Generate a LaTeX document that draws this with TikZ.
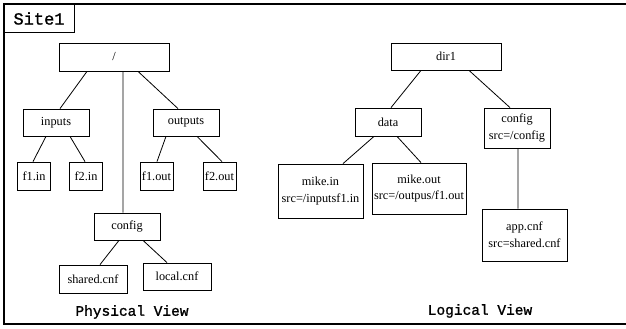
\documentclass[tikz,border=0pt]{standalone}
\usepackage{fontspec}
\setmainfont{Liberation Serif}
\newfontfamily\monofont[FakeBold=1.2]{Liberation Mono}
\usetikzlibrary{positioning}
\tikzset{
    box/.style={draw=black, line width=0.8pt, fill=white, inner sep=1pt, align=center,
        font=\fontsize{12.3}{16.5}\selectfont},
    link/.style={draw=black, line width=0.8pt},
    title/.style={font=\monofont\fontsize{14.5}{16}\selectfont}
}
\begin{document}
\begin{tikzpicture}[x=1pt, y=-1pt]
                \useasboundingbox (0,0) rectangle (626,329);
                \draw[line width=1.2pt] (626,4) -| (4,324) -- (626,324);
                \node[draw=black, line width=1pt, minimum width=70pt, minimum height=29pt, font=\monofont\fontsize{17}{18}\selectfont] (site) at (39,18.5) {Site1};

                % physical view
                \node[box, minimum width=110pt, minimum height=28pt] (root) at (114,57) {/};
                \foreach \n/\t/\x in {inputs/inputs/56, outputs/outputs/186}
                    \node[box, minimum width=66pt, minimum height=27pt] (\n) at (\x,122.5) {\t};
                \foreach \n/\t/\x in {f1in/f1.in/34, f2in/f2.in/86, f1out/f1.out/156.5, f2out/f2.out/219.5}
                    \node[box, minimum width=33pt, minimum height=28pt] (\n) at (\x,176) {\t};
                \node[box, minimum width=66pt, minimum height=27pt] (config) at (127,226.5) {config};
                \node[box, minimum width=68pt, minimum height=28pt] (shared) at (93,279) {shared.cnf};
                \node[box, minimum width=68pt, minimum height=27pt] (local) at (177,276.5) {local.cnf};
                \node[title] (phys) at (132,312) {Physical View};

                \draw[link] ([xshift=-27pt]root.south) -- ([xshift=4pt]inputs.north)
                      ([xshift=24pt]root.south) -- ([xshift=-8pt]outputs.north)
                      ([xshift=9pt]root.south) -- ([xshift=-4pt]config.north);
                \draw[link] ([xshift=-10pt]inputs.south) -- ([xshift=-1pt]f1in.north)
                      ([xshift=14pt]inputs.south) -- ([xshift=-1pt]f2in.north)
                      ([xshift=-20pt]outputs.south) -- ([xshift=0.5pt]f1out.north)
                      ([xshift=11pt]outputs.south) -- ([xshift=2.5pt]f2out.north);
                \draw[link] ([xshift=-8pt]config.south) -- ([xshift=7pt]shared.north)
                      ([xshift=16pt]config.south) -- ([xshift=-10pt]local.north);

                % logical view
                \node[box, minimum width=110pt, minimum height=27pt] (dir) at (446,56.5) {dir1};
                \node[box, minimum width=66pt, minimum height=28pt] (data) at (388,122) {data};
                \node[box, minimum width=66pt, minimum height=40pt] (lconfig) at (517,128) {config\\src=/config};
                \node[box, minimum width=85pt, minimum height=54pt] (mikein) at (320.5,191) {mike.in\\src=/inputsf1.in};
                \node[box, minimum width=94pt, minimum height=51pt] (mikeout) at (419,188.5) {mike.out\\src=/outpus/f1.out};
                \node[box, minimum width=85pt, minimum height=52pt] (app) at (524.5,235) {app.cnf\\src=shared.cnf};
                \node[title] (logic) at (480,311) {Logical View};

                \draw[link] ([xshift=-25pt]dir.south) -- ([xshift=3pt]data.north)
                      ([xshift=23pt]dir.south) -- ([xshift=-7pt]lconfig.north);
                \draw[link] ([xshift=-14pt]data.south) -- ([xshift=22.5pt]mikein.north)
                      ([xshift=9pt]data.south) -- ([xshift=2pt]mikeout.north)
                      ([xshift=1pt]lconfig.south) -- ([xshift=-6.5pt]app.north);
            \end{tikzpicture}
\end{document}
